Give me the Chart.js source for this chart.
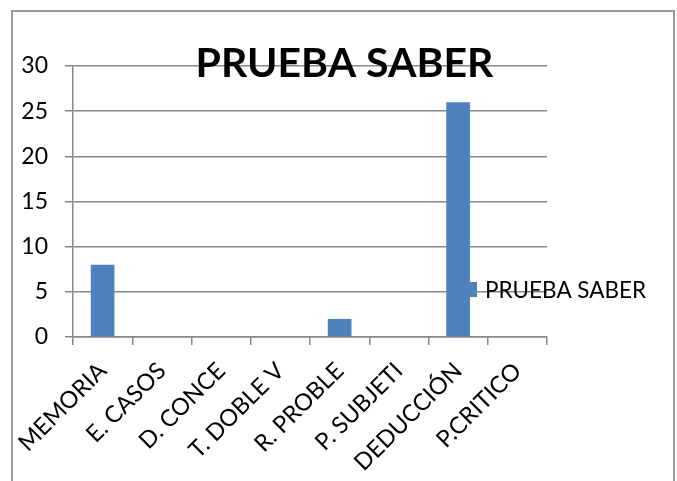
<!DOCTYPE html>
<html>
<head>
<meta charset="utf-8">
<script src="https://cdn.jsdelivr.net/npm/chart.js@4.4.0/dist/chart.umd.min.js"></script>
<style>
  body { margin: 0; background: #fff; }
  #wrap { width: 677px; height: 481px; }
</style>
</head>
<body>
<div id="wrap"><canvas id="prueba" width="677" height="481"></canvas></div>
<script>
document.addEventListener('DOMContentLoaded', function(){

    //datos
    const categorias = ['MEMORIA', 'E. CASOS', 'D. CONCE', 'T. DOBLE V', 'R. PROBLE', 'P. SUBJETI', 'DEDUCCIÓN', 'P.CRITICO'];
    const valores = [8, 0, 0, 0, 2, 0, 26, 0];
    const serie = 'PRUEBA SABER';
    const titulo = 'PRUEBA SABER';
    const yMin = 0, yMax = 30, yPaso = 5;

    const azul = '#4F81BD';
    const gris = '#888888';

    //marco, titulo y leyenda
    const extras = {
      id: 'extras',
      beforeDraw(chart){
        const ctx = chart.ctx;
        ctx.save();
        ctx.fillStyle = '#fff';
        ctx.fillRect(0, 0, chart.width, chart.height);
        ctx.strokeStyle = '#9a9a9a';
        ctx.lineWidth = 2;
        ctx.strokeRect(12, 11, 662, 600);
        ctx.restore();
      },
      afterDraw(chart){
        const ctx = chart.ctx;
        ctx.save();
        ctx.fillStyle = '#000';
        ctx.font = 'bold 41px Lato';
        ctx.textAlign = 'center';
        ctx.textBaseline = 'alphabetic';
        ctx.fillText(titulo, 344.5, 77);

        ctx.fillStyle = azul;
        ctx.fillRect(462, 282, 15, 15);
        ctx.fillStyle = '#000';
        ctx.font = '22.5px Lato';
        ctx.textAlign = 'left';
        ctx.fillText(serie, 485, 298);
        ctx.restore();
      }
    };

    const data = {
      labels: categorias,
      datasets: [{
        label: serie,
        data: valores,
        backgroundColor: azul,
        barPercentage: 0.4,
        categoryPercentage: 1
      }]
    };

    const config = {
      type: 'bar',
      data: data,
      plugins: [extras],
      options: {
        responsive: false,
        animation: false,
        layout: { padding: { top: 66, right: 130, bottom: 0, left: 0 } },
        plugins: {
          legend: { display: false },
          title: { display: false },
          tooltip: { enabled: false }
        },
        scales: {
          x: {
            grid: { drawOnChartArea: false, tickLength: 8, color: gris, lineWidth: 1.5 },
            border: { color: gris, width: 1.5 },
            ticks: { minRotation: 45, maxRotation: 45, color: '#000', font: { family: 'Lato', size: 23.5 }, padding: 12 },
            afterFit: function(s){
              s.height = 481 - 337;
              s.paddingLeft = 0;
              s.paddingRight = 0;
            }
          },
          y: {
            min: yMin,
            max: yMax,
            ticks: { stepSize: yPaso, color: '#000', font: { family: 'Lato', size: 23 }, padding: 17 },
            grid: { tickLength: 8, color: gris, lineWidth: 1.5 },
            border: { color: gris, width: 1.5 },
            afterFit: function(s){ s.width = 73; }
          }
        }
      }
    };

    new Chart(document.getElementById('prueba'), config);
})
</script>
</body>
</html>
